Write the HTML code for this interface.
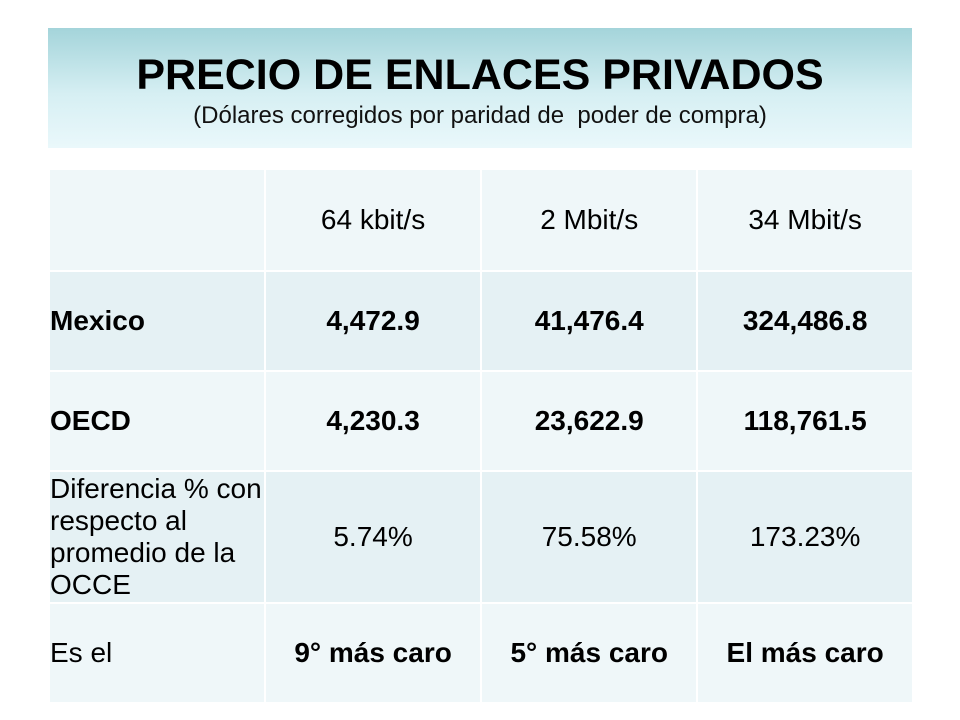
<!DOCTYPE html>
<html><head><meta charset="utf-8"><style>
body{margin:0;width:960px;height:720px;background:#fff;font-family:"Liberation Sans",sans-serif;position:relative;overflow:hidden}
#hdr{position:absolute;left:48px;top:28px;width:864px;height:120px;background:linear-gradient(#a4d4da,#d6eff3 55%,#eaf8fb);text-align:center}
#hdr h1{margin:0;position:absolute;top:24px;width:100%;font-size:43px;line-height:46px;font-weight:bold;color:#000}
#hdr p{margin:0;position:absolute;top:75px;width:100%;font-size:24px;line-height:26px;color:#111}
table{position:absolute;left:48px;top:168px;width:866px;border-collapse:collapse;font-size:28px;color:#000}
td{border:2px solid #fff;text-align:center;padding:0}
td:first-child{text-align:left;padding-left:0;width:214px}
tr.a td{background:#eff7f9}
tr.b td{background:#e5f1f4}
.bd{font-weight:bold}
</style></head><body>
<div id="hdr">
<h1>PRECIO DE ENLACES PRIVADOS</h1>
<p>(Dólares corregidos por paridad de&nbsp; poder de compra)</p>
</div>
<table>
<tr class="a" style="height:102px"><td></td><td>64 kbit/s</td><td>2 Mbit/s</td><td>34 Mbit/s</td></tr>
<tr class="b bd" style="height:100px"><td>Mexico</td><td>4,472.9</td><td>41,476.4</td><td>324,486.8</td></tr>
<tr class="a bd" style="height:100px"><td>OECD</td><td>4,230.3</td><td>23,622.9</td><td>118,761.5</td></tr>
<tr class="b" style="height:132px"><td style="line-height:32px">Diferencia % con respecto al promedio de la OCCE</td><td>5.74%</td><td>75.58%</td><td>173.23%</td></tr>
<tr class="a" style="height:100px"><td>Es el</td><td class="bd">9° más caro</td><td class="bd">5° más caro</td><td class="bd">El más caro</td></tr>
</table>
</body></html>
